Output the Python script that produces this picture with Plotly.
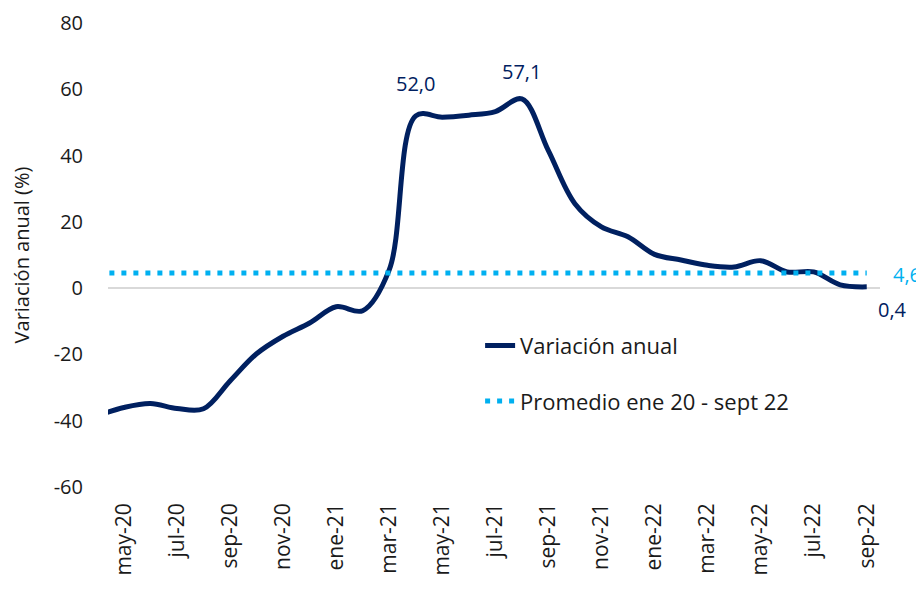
import plotly.graph_objects as go

months = ["abr-20", "may-20", "jun-20", "jul-20", "ago-20", "sep-20", "oct-20", "nov-20", "dic-20",
          "ene-21", "feb-21", "mar-21", "abr-21", "may-21", "jun-21", "jul-21", "ago-21", "sep-21",
          "oct-21", "nov-21", "dic-21", "ene-22", "feb-22", "mar-22", "abr-22", "may-22", "jun-22",
          "jul-22", "ago-22", "sep-22"]
variacion = [-38.5, -36.0, -34.8, -36.3, -36.4, -28.0, -19.8, -14.5, -10.5,
             -5.6, -6.8, 5.5, 52.0, 51.6, 52.2, 53.3, 57.1, 41.5,
             25.5, 18.5, 15.5, 10.2, 8.5, 6.9, 6.4, 8.3, 4.9,
             4.9, 1.0, 0.4]
promedio_valor = 4.6
promedio = [promedio_valor] * len(months)
tick_labels = ["may-20", "jul-20", "sep-20", "nov-20", "ene-21", "mar-21", "may-21", "jul-21",
               "sep-21", "nov-21", "ene-22", "mar-22", "may-22", "jul-22", "sep-22"]
y_ticks = [-60, -40, -20, 0, 20, 40, 60, 80]
y_tick_text = ["-60", "-40", "-20", "0", "20", "40", "60", "80"]

NAVY = "#002060"
CYAN = "#00B0F0"
FONT = "Open Sans"

fig = go.Figure()
fig.add_trace(go.Scatter(
    x=months, y=variacion, name="Variación anual", mode="lines",
    line=dict(color=NAVY, width=5, shape="spline", smoothing=1.0),
    legendgroup="a"))
fig.add_trace(go.Scatter(
    x=months, y=promedio, name="Promedio ene 20 - sept 22", mode="lines",
    line=dict(color=CYAN, width=5, dash="5px,7px"),
    legendgroup="b"))

fig.add_annotation(x="abr-21", y=52.0, text="52,0", showarrow=False, yshift=32,
                   font=dict(color=NAVY, size=20, family=FONT))
fig.add_annotation(x="ago-21", y=57.1, text="57,1", showarrow=False, yshift=27,
                   font=dict(color=NAVY, size=20, family=FONT))
fig.add_annotation(x="sep-22", y=variacion[-1], text="0,4", showarrow=False, xshift=26, yshift=-23,
                   font=dict(color=NAVY, size=20, family=FONT))
fig.add_annotation(x="sep-22", y=promedio_valor, text="4,6", showarrow=False, xshift=24, yshift=-2,
                   xanchor="left", font=dict(color=CYAN, size=20, family=FONT))

fig.update_layout(
    width=916, height=581,
    margin=dict(l=100, r=44, t=15, b=102),
    paper_bgcolor="white", plot_bgcolor="white",
    font=dict(family=FONT, size=17, color="#1a1a1a"),
    showlegend=True,
    legend=dict(x=0.482, y=0.35, xanchor="left", yanchor="top",
                font=dict(size=22, color="#1a1a1a"), tracegroupgap=24,
                bgcolor="rgba(0,0,0,0)"),
    xaxis=dict(type="category", range=[0.4, 29.5], tickmode="array",
               tickvals=tick_labels, ticktext=tick_labels, tickangle=-90,
               showgrid=False, showline=False, zeroline=False, ticks="",
               tickfont=dict(size=21), ticklabelstandoff=11, automargin=False),
    yaxis=dict(range=[-60, 80.02], tickmode="array", tickvals=y_ticks, ticktext=y_tick_text,
               showgrid=False, zeroline=True, ticklabeloverflow="allow",
               zerolinecolor="#D9D9D9", zerolinewidth=2, showline=False, ticks="",
               tickfont=dict(size=20), ticklabelstandoff=24, automargin=False,
               title=dict(text="Variación anual (%)", font=dict(size=20), standoff=18)),
)

fig.write_html("out.html")
